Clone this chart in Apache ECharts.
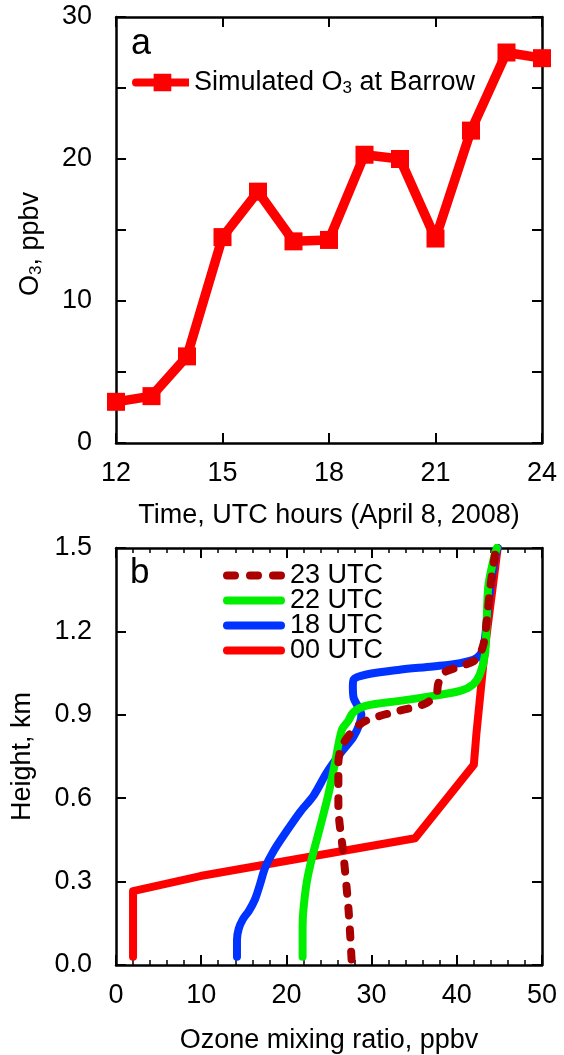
<!DOCTYPE html>
<html>
<head>
<meta charset="utf-8">
<script src="https://cdn.jsdelivr.net/npm/echarts@6/dist/echarts.min.js"></script>
<style>
  html, body { margin: 0; padding: 0; background: #fff; }
  #chart { width: 564px; height: 1055px; }
</style>
</head>
<body>
<div id="chart"></div>
<script>
// panel a: simulated O3 at Barrow
var hours = [12, 13, 14, 15, 16, 17, 18, 19, 20, 21, 22, 23, 24];
var o3Sim = [2.9, 3.3, 6.1, 14.5, 17.7, 14.2, 14.3, 20.3, 20.0, 14.4, 22.0, 27.5, 27.1];

// panel b: ozone profiles (x = ppbv, y = km)
var p00x = [2.0, 2.0, 9.9, 35.1, 42.0, 42.3, 43.3, 44.8];
var p00y = [0.03, 0.266, 0.32, 0.456, 0.72, 0.832, 1.139, 1.50];

var p18x = [14.2, 14.2, 14.4, 14.9, 15.6, 16.3, 16.9, 17.5, 18.5, 20.0, 21.6, 23.2, 24.7, 26.3, 27.85, 28.6, 28.8, 28.4, 27.9, 27.8, 27.9, 29.4, 33.3, 37.2, 40.4, 42.3, 43.1, 43.5, 43.9, 44.5, 44.8];
var p18y = [0.03, 0.09, 0.13, 0.165, 0.195, 0.235, 0.29, 0.35, 0.41, 0.48, 0.55, 0.61, 0.69, 0.76, 0.82, 0.868, 0.90, 0.93, 0.96, 1.0, 1.027, 1.045, 1.062, 1.074, 1.086, 1.104, 1.139, 1.233, 1.351, 1.469, 1.50];

var p22x = [21.9, 21.9, 22.0, 22.4, 23.0, 23.9, 24.9, 25.7, 26.5, 27.3, 27.85, 29.4, 33.3, 37.2, 40.4, 41.9, 42.7, 43.3, 43.5, 43.7, 44.3, 44.7];
var p22y = [0.03, 0.137, 0.2, 0.30, 0.385, 0.49, 0.61, 0.726, 0.845, 0.88, 0.909, 0.933, 0.95, 0.968, 0.986, 1.009, 1.045, 1.115, 1.233, 1.363, 1.457, 1.50];

var p23x = [27.65, 27.3, 26.7, 26.1, 26.1, 26.5, 27.85, 29.4, 33.3, 36.3, 37.6, 37.8, 38.4, 40.4, 42.3, 43.1, 43.5, 43.9, 44.5, 44.7];
var p23y = [0.02, 0.196, 0.396, 0.573, 0.726, 0.785, 0.845, 0.88, 0.915, 0.94, 0.974, 1.009, 1.05, 1.074, 1.10, 1.15, 1.233, 1.351, 1.48, 1.50];

var topTicks = [0, 10, 20, 30];

function pairs(xs, ys) {
    var out = [];
    for (var i = 0; i < xs.length; i++) out.push([xs[i], ys[i]]);
    return out;
}

var chart = echarts.init(document.getElementById('chart'));

var font = 'Liberation Sans';
var axisLine = { show: true, onZero: false, lineStyle: { color: '#000', width: 2.5 } };
var tick = { show: true, inside: true, length: 10, lineStyle: { color: '#000', width: 2 } };
var minor = { show: true, splitNumber: 5, length: 5, lineStyle: { color: '#000', width: 1.5 } };
var lbl = { fontFamily: font, fontSize: 27, color: '#000' };
var rich = {
    n: { fontFamily: font, fontSize: 27, color: '#000' },
    sub: { fontFamily: font, fontSize: 17, color: '#000', padding: [11, 0, 0, 0] }
};
var nameStyle = { fontFamily: font, fontSize: 27, color: '#000', rich: rich };

// legend icons: thick rounded line (+ square marker), dashed rounded line
var iconLineSq = 'path://M4,5H58V13H4A4,4,0,0,1,4,5Z M22,0H40V18H22Z';
var iconSolid = 'path://M4,0H58A4,4,0,0,1,58,8H4A4,4,0,0,1,4,0Z';
var iconDash = 'path://M4,0H12A4,4,0,0,1,12,8H4A4,4,0,0,1,4,0Z M27,0H35A4,4,0,0,1,35,8H27A4,4,0,0,1,27,0Z M50,0H58A4,4,0,0,1,58,8H50A4,4,0,0,1,50,0Z';

option = {
    animation: false,
    backgroundColor: '#fff',
    textStyle: { fontFamily: font },
    grid: [
        { left: 116, top: 17, width: 426, height: 426 },
        { left: 116, top: 548, width: 426, height: 424 }
    ],
    xAxis: [
        {
            gridIndex: 0, type: 'value', position: 'bottom', min: 12, max: 24, interval: 3,
            axisLine: axisLine, axisTick: tick, splitLine: { show: false },
            axisLabel: Object.assign({ margin: 17 }, lbl),
            name: '{n|Time, UTC hours (April 8, 2008)}', nameLocation: 'middle', nameGap: 59,
            nameTextStyle: nameStyle
        },
        {
            gridIndex: 0, type: 'value', position: 'top', min: 12, max: 24, interval: 3,
            axisLine: axisLine, axisTick: tick, splitLine: { show: false }, axisLabel: { show: false }
        },
        {
            gridIndex: 1, type: 'value', position: 'bottom', min: 0, max: 50, interval: 10,
            axisLine: axisLine, axisTick: tick, splitLine: { show: false }, minorTick: minor,
            axisLabel: Object.assign({ margin: 17 }, lbl),
            name: '{n|Ozone mixing ratio, ppbv}', nameLocation: 'middle', nameGap: 62,
            nameTextStyle: nameStyle
        },
        {
            gridIndex: 1, type: 'value', position: 'top', min: 0, max: 50, interval: 10,
            axisLine: axisLine, axisTick: tick, splitLine: { show: false }, minorTick: minor,
            axisLabel: { show: false }
        }
    ],
    yAxis: [
        {
            gridIndex: 0, type: 'value', position: 'left', min: 0, max: 30, interval: 5,
            axisLine: axisLine, axisTick: tick, splitLine: { show: false },
            axisLabel: Object.assign({
                margin: 24,
                formatter: function (v) { return topTicks.indexOf(v) >= 0 ? String(v) : ''; }
            }, lbl),
            name: '{n|O}{sub|3}{n|, ppbv}', nameLocation: 'middle', nameGap: 71, nameRotate: 90,
            nameTextStyle: Object.assign({ padding: [0, 28, 0, 0] }, nameStyle)
        },
        {
            gridIndex: 0, type: 'value', position: 'right', min: 0, max: 30, interval: 5,
            axisLine: axisLine, axisTick: tick, splitLine: { show: false }, axisLabel: { show: false }
        },
        {
            gridIndex: 1, type: 'value', position: 'left', min: 0, max: 1.5, interval: 0.3,
            axisLine: axisLine, axisTick: tick, splitLine: { show: false },
            axisLabel: Object.assign({
                margin: 24,
                formatter: function (v) { return v.toFixed(1); }
            }, lbl),
            name: '{n|Height, km}', nameLocation: 'middle', nameGap: 80, nameRotate: 90,
            nameTextStyle: nameStyle
        },
        {
            gridIndex: 1, type: 'value', position: 'right', min: 0, max: 1.5, interval: 0.3,
            axisLine: axisLine, axisTick: tick, splitLine: { show: false }, axisLabel: { show: false }
        }
    ],
    legend: [
        {
            data: [{ name: 'Simulated O3 at Barrow', icon: iconLineSq }],
            left: 132, top: 69, padding: 0, itemWidth: 57, itemHeight: 18, itemGap: 0,
            formatter: function () { return '{n|Simulated O}{sub|3}{n| at Barrow}'; },
            textStyle: { fontFamily: font, fontSize: 27, color: '#000', rich: rich }
        },
        {
            data: [
                { name: '23 UTC', icon: iconDash },
                { name: '22 UTC', icon: iconSolid },
                { name: '18 UTC', icon: iconSolid },
                { name: '00 UTC', icon: iconSolid }
            ],
            orient: 'vertical', left: 223, top: 562, padding: 0, itemWidth: 62, itemHeight: 8, itemGap: -2,
            textStyle: { fontFamily: font, fontSize: 27, color: '#000', lineHeight: 24 }
        }
    ],
    graphic: [
        { type: 'text', left: 131, top: 26, style: { text: 'a', fontFamily: font, fontSize: 36, fill: '#000' } },
        { type: 'text', left: 130, top: 556, style: { text: 'b', fontFamily: font, fontSize: 35, fill: '#000' } }
    ],
    series: [
        {
            name: 'Simulated O3 at Barrow', type: 'line', xAxisIndex: 0, yAxisIndex: 0,
            data: pairs(hours, o3Sim),
            symbol: 'rect', symbolSize: 18,
            lineStyle: { color: '#ff0000', width: 9.5 },
            itemStyle: { color: '#ff0000' }
        },
        {
            name: '00 UTC', type: 'line', xAxisIndex: 2, yAxisIndex: 2,
            data: pairs(p00x, p00y), showSymbol: false, symbol: 'none',
            lineStyle: { color: '#ff0000', width: 8, cap: 'round', join: 'round' },
            itemStyle: { color: '#ff0000' }
        },
        {
            name: '18 UTC', type: 'line', xAxisIndex: 2, yAxisIndex: 2,
            data: pairs(p18x, p18y), showSymbol: false, symbol: 'none', smooth: 0.3,
            lineStyle: { color: '#0033ff', width: 8, cap: 'round', join: 'round' },
            itemStyle: { color: '#0033ff' }
        },
        {
            name: '22 UTC', type: 'line', xAxisIndex: 2, yAxisIndex: 2,
            data: pairs(p22x, p22y), showSymbol: false, symbol: 'none', smooth: 0.3,
            lineStyle: { color: '#00ee00', width: 8, cap: 'round', join: 'round' },
            itemStyle: { color: '#00ee00' }
        },
        {
            name: '23 UTC', type: 'line', xAxisIndex: 2, yAxisIndex: 2,
            data: pairs(p23x, p23y), showSymbol: false, symbol: 'none', smooth: 0.3,
            lineStyle: { color: '#aa0000', width: 8, type: [8, 14], cap: 'round', join: 'round' },
            itemStyle: { color: '#aa0000' }
        }
    ]
};

chart.setOption(option);
</script>
</body>
</html>
